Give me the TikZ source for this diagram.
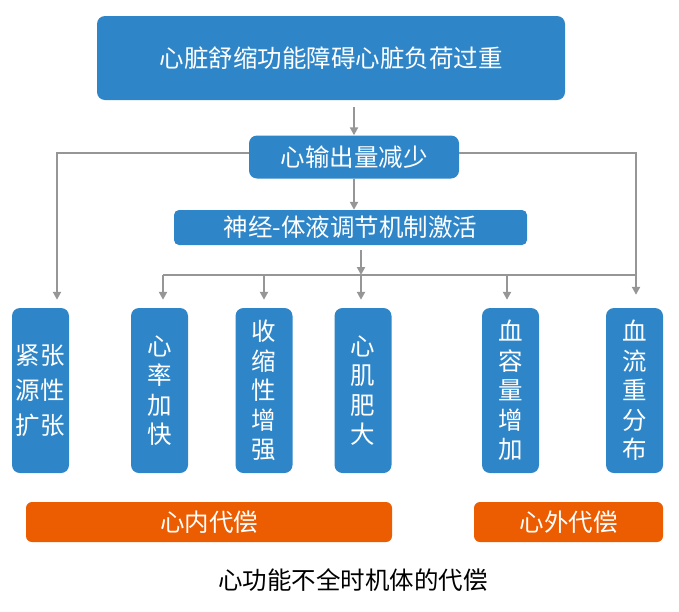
\documentclass[tikz,border=0pt]{standalone}
\usepackage{fontspec}
\setmainfont{Noto Sans CJK SC}
\usetikzlibrary{arrows.meta}
\definecolor{boxblue}{RGB}{46,134,201}
\definecolor{boxorange}{RGB}{236,92,0}
\definecolor{linegray}{RGB}{150,150,150}
\tikzset{
	bluebox/.style={fill=boxblue, text=white, rounded corners=8pt, inner sep=0pt, font=\fontsize{24.5}{29.5}\selectfont, align=center},
	orangebox/.style={fill=boxorange, text=white, rounded corners=6pt, inner sep=0pt, minimum height=40pt, font=\fontsize{24.5}{29.5}\selectfont},
	colbox/.style={bluebox, minimum width=57pt, minimum height=165pt},
	conn/.style={linegray, line width=2pt},
	arr/.style={conn, -{Triangle[length=8pt,width=8pt]}}
}
\begin{document}
\begin{tikzpicture}[x=1pt, y=-1pt]
			\useasboundingbox (0,0) rectangle (679,611);

				\node[bluebox, minimum width=468pt, minimum height=84pt] (load) at (331,58) {心脏舒缩功能障碍心脏负荷过重};
				\node[bluebox, minimum width=210pt, minimum height=43pt] (output) at (354,157) {心输出量减少};
				\node[bluebox, minimum width=353pt, minimum height=35pt, rounded corners=5pt] (nerve) at (350.5,227.5) {神经-体液调节机制激活};

				\node[colbox, font=\fontsize{24.5}{35}\selectfont] (tone) at (40.5,390.5) {紧张\\源性\\扩张};
				\node[colbox] (rate) at (159.5,390.5) {心\\率\\加\\快};
				\node[colbox] (contr) at (264,390.5) {收\\缩\\性\\增\\强};
				\node[colbox] (hyper) at (363,390.5) {心\\肌\\肥\\大};
				\node[colbox] (volume) at (510.5,390.5) {血\\容\\量\\增\\加};
				\node[colbox] (redis) at (634.5,390.5) {血\\流\\重\\分\\布};

				\node[orangebox, minimum width=366pt] (inner) at (209,522) {心内代偿};
				\node[orangebox, minimum width=189pt] (outer) at (568.5,522) {心外代偿};
				\node[font=\fontsize{24.5}{29.5}\selectfont] (caption) at (353,580) {心功能不全时机体的代偿};

				\coordinate (bus) at (361,275);
				\coordinate (busl) at (163,275);
				\coordinate (busr) at (636,275);

				\draw[arr, shorten <=7pt] (output.north |- load.south) -- (output.north);
				\draw[arr] (output.south) -- (output.south |- nerve.north);
				\draw[arr, shorten >=8pt] ([yshift=4pt]output.west) -| ([xshift=16.5pt]tone.north);
				\draw[arr, shorten >=13pt] ([yshift=4pt]output.east) -| ([xshift=1.5pt]redis.north);
				\draw[arr, shorten <=5pt] (nerve.south -| bus) -- (bus);
				\draw[conn] (busl) -- (busr);
				\foreach \col/\dx in {rate/3.5, contr/0, hyper/-2, volume/-3.5}
					\draw[arr, shorten >=8pt] ([xshift=\dx pt]\col.north |- bus) -- ([xshift=\dx pt]\col.north);

			\end{tikzpicture}
\end{document}
